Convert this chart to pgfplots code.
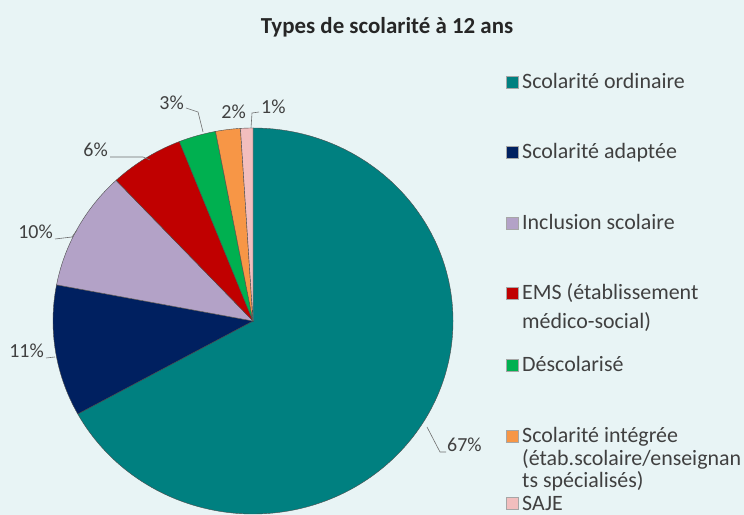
\documentclass[border=0pt]{standalone}
\usepackage{fontspec}
\setmainfont{Carlito}
\usepackage{pgfplots}
\pgfplotsset{compat=1.18}
\usepackage{pgfplotstable}

\definecolor{bgcol}{RGB}{232,244,245}
\definecolor{sordinaire}{RGB}{0,128,128}
\definecolor{sadaptee}{RGB}{0,32,96}
\definecolor{sinclusion}{RGB}{179,162,199}
\definecolor{sems}{RGB}{192,0,0}
\definecolor{sdescol}{RGB}{0,176,80}
\definecolor{sintegree}{RGB}{247,150,70}
\definecolor{ssaje}{RGB}{242,190,190}
\definecolor{txtgray}{RGB}{64,64,64}
\definecolor{leadgray}{RGB}{110,110,110}

% parts in percent, clockwise from 12 o'clock
\pgfplotstableread{
value colour
67 sordinaire
11 sadaptee
10 sinclusion
6  sems
3  sdescol
2  sintegree
1  ssaje
}\piedata

\begin{document}
\begin{tikzpicture}[x=1bp,y=1bp]
\fill[bgcol] (0,0) rectangle (744,515);
\useasboundingbox (0,0) rectangle (744,515);

\begin{axis}[
  at={(253bp,194bp)}, anchor=origin,
  scale only axis, width=400bp, height=386bp,
  xmin=-1, xmax=1, ymin=-1, ymax=1,
  hide axis, clip=false,
]
  \pgfplotstablegetrowsof{\piedata}
  \pgfmathtruncatemacro{\nrows}{\pgfplotsretval-1}
  \def\cum{0}
  \pgfplotsforeachungrouped \i in {0,...,\nrows}{
    \pgfplotstablegetelem{\i}{value}\of{\piedata}\let\val\pgfplotsretval
    \pgfplotstablegetelem{\i}{colour}\of{\piedata}\let\col\pgfplotsretval
    \pgfmathsetmacro{\aS}{90-3.6*\cum}
    \pgfmathsetmacro{\aE}{90-3.6*(\cum+\val)}
    \edef\doslice{\noexpand\filldraw[fill=\col, draw=gray!60!black, line width=0.4bp]
      (axis cs:0,0) -- (axis cs:{cos(\aS)},{sin(\aS)})
      arc[start angle=\aS, end angle=\aE, x radius=200bp, y radius=193bp] -- cycle;}
    \doslice
    \pgfmathsetmacro{\cum}{\cum+\val}
  }
\end{axis}

% title
\node[anchor=base, font=\fontsize{23}{27}\selectfont\bfseries, text=black!85] at (387,481) {Types de scolarité à 12 ans};

% data labels and leader lines
\begin{scope}[font=\fontsize{20}{24}\selectfont, text=txtgray, inner sep=0pt]
  \node[anchor=base west] at (447,63) {67\%};
  \draw[leadgray, line width=0.6bp] (427,88) -- (440,63) -- (446,63);
  \node[anchor=base east] at (44,157) {11\%};
  \draw[leadgray, line width=0.6bp] (46,157) -- (55,158);
  \node[anchor=base east] at (53,276) {10\%};
  \draw[leadgray, line width=0.6bp] (55,276) -- (72,278) -- (77,285);
  \node[anchor=base east] at (108,358) {6\%};
  \draw[leadgray, line width=0.6bp] (110,358) -- (143,358) -- (150,355);
  \node[anchor=base east] at (184,405) {3\%};
  \draw[leadgray, line width=0.6bp] (186,407) -- (198,403) -- (203,383);
  \node[anchor=base east] at (246,396) {2\%};
  \node[anchor=base west] at (261,401) {1\%};
  \draw[leadgray, line width=0.6bp] (259,403) -- (252,402) -- (251,387);
\end{scope}

% legend
\begin{scope}[font=\fontsize{22}{26}\selectfont, text=txtgray, inner sep=0pt]
  \foreach \c/\y in {sordinaire/433, sadaptee/363, sinclusion/292, sems/222, sdescol/150, sintegree/79, ssaje/12}{
    \filldraw[fill=\c, draw=gray!70] (506,\y-6) rectangle (518,\y+6);
  }
  \node[anchor=base west] at (522,426) {Scolarité ordinaire};
  \node[anchor=base west] at (522,356) {Scolarité adaptée};
  \node[anchor=base west] at (522,285) {Inclusion scolaire};
  \node[anchor=base west] at (522,215) {EMS (établissement};
  \node[anchor=base west] at (522,186) {médico-social)};
  \node[anchor=base west] at (522,143) {Déscolarisé};
  \node[anchor=base west] at (522,72)  {Scolarité intégrée};
  \node[anchor=base west] at (522,49)  {(étab.scolaire/enseignan};
  \node[anchor=base west] at (522,27)  {ts spécialisés)};
  \node[anchor=base west] at (522,4.5) {SAJE};
\end{scope}
\end{tikzpicture}
\end{document}
